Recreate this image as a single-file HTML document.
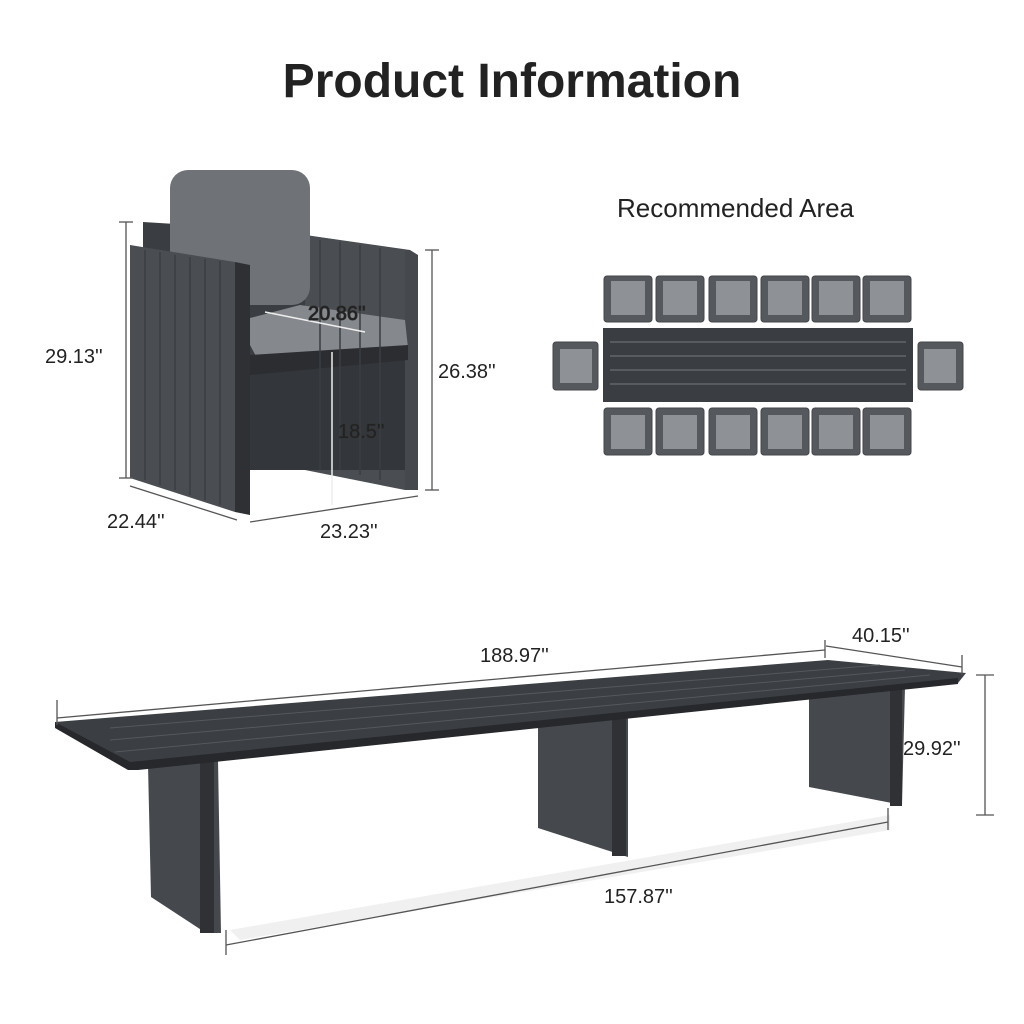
<!DOCTYPE html>
<html><head><meta charset="utf-8"><style>
html,body{margin:0;padding:0;background:#fff}
svg{display:block}
text{font-family:"Liberation Sans",sans-serif;fill:#222}
</style></head><body>
<svg width="1024" height="1024" viewBox="0 0 1024 1024" xmlns="http://www.w3.org/2000/svg">
<text x="512" y="97" text-anchor="middle" font-size="48" font-weight="bold" fill="#111">Product Information</text>

<!-- Chair -->
<g>
<polygon points="143,222 305,232 305,470 143,470" fill="#3a3d42"/>
<polygon points="305,235 410,250 418,255 418,490 405,490 405,260 305,245" fill="#45484d"/>
<polygon points="305,235 405,250 405,490 305,470" fill="#4a4d52"/>
<polygon points="250,360 405,345 405,470 250,470" fill="#33363a"/>
<rect x="170" y="170" width="140" height="135" rx="18" fill="#6f7277"/>
<polygon points="250,318 300,305 405,320 408,348 258,360 250,345" fill="#85888c"/>
<polygon points="250,355 408,345 408,360 250,375" fill="#2b2d31"/>
<polygon points="130,245 235,262 235,512 130,478" fill="#4a4d52"/>
<polygon points="235,262 250,265 250,515 235,512" fill="#2e3034"/>
<g stroke="#3b3e42" stroke-width="1.5">
<line x1="145" y1="250" x2="145" y2="480"/><line x1="160" y1="252" x2="160" y2="485"/>
<line x1="175" y1="255" x2="175" y2="490"/><line x1="190" y1="257" x2="190" y2="495"/>
<line x1="205" y1="259" x2="205" y2="500"/><line x1="220" y1="261" x2="220" y2="505"/>
<line x1="320" y1="240" x2="320" y2="470"/><line x1="340" y1="242" x2="340" y2="470"/>
<line x1="360" y1="245" x2="360" y2="475"/><line x1="380" y1="248" x2="380" y2="480"/>
</g>
<g stroke="#555" stroke-width="1.3" fill="none">
<line x1="126" y1="222" x2="126" y2="478"/><line x1="119" y1="222" x2="133" y2="222"/><line x1="119" y1="478" x2="133" y2="478"/>
<line x1="432" y1="250" x2="432" y2="490"/><line x1="425" y1="250" x2="439" y2="250"/><line x1="425" y1="490" x2="439" y2="490"/>
<line x1="130" y1="486" x2="237" y2="520"/>
<line x1="250" y1="522" x2="418" y2="496"/>
</g>
<line x1="332" y1="352" x2="332" y2="505" stroke="#eee" stroke-width="1.5"/>
<line x1="265" y1="312" x2="365" y2="332" stroke="#eee" stroke-width="1.5"/>
<text x="45" y="363" font-size="20">29.13''</text>
<text x="438" y="378" font-size="20">26.38''</text>
<text x="107" y="528" font-size="20">22.44''</text>
<text x="320" y="538" font-size="20">23.23''</text>
<text x="338" y="438" font-size="20" fill="#fff" stroke="#333" stroke-width="1" paint-order="stroke">18.5''</text>
<text x="308" y="320" font-size="20" fill="#fff" stroke="#333" stroke-width="1" paint-order="stroke">20.86''</text>
</g>

<!-- Recommended area -->
<text x="617" y="217" font-size="26">Recommended Area</text>
<rect x="603" y="328" width="310" height="74" fill="#3a3d42"/>
<g stroke="#6b6e73" stroke-width="1.2">
<line x1="610" y1="342" x2="906" y2="342"/><line x1="610" y1="356" x2="906" y2="356"/>
<line x1="610" y1="370" x2="906" y2="370"/><line x1="610" y1="384" x2="906" y2="384"/>
</g>
<g fill="#55585d" stroke="#44464a">
<rect x="604" y="276" width="48" height="46" rx="3"/><rect x="656" y="276" width="48" height="46" rx="3"/>
<rect x="709" y="276" width="48" height="46" rx="3"/><rect x="761" y="276" width="48" height="46" rx="3"/>
<rect x="812" y="276" width="48" height="46" rx="3"/><rect x="863" y="276" width="48" height="46" rx="3"/>
<rect x="604" y="408" width="48" height="47" rx="3"/><rect x="656" y="408" width="48" height="47" rx="3"/>
<rect x="709" y="408" width="48" height="47" rx="3"/><rect x="761" y="408" width="48" height="47" rx="3"/>
<rect x="812" y="408" width="48" height="47" rx="3"/><rect x="863" y="408" width="48" height="47" rx="3"/>
<rect x="553" y="342" width="45" height="48" rx="3"/><rect x="918" y="342" width="45" height="48" rx="3"/>
</g>
<g fill="#8e9196">
<rect x="611" y="281" width="34" height="34"/><rect x="663" y="281" width="34" height="34"/>
<rect x="716" y="281" width="34" height="34"/><rect x="768" y="281" width="34" height="34"/>
<rect x="819" y="281" width="34" height="34"/><rect x="870" y="281" width="34" height="34"/>
<rect x="611" y="415" width="34" height="34"/><rect x="663" y="415" width="34" height="34"/>
<rect x="716" y="415" width="34" height="34"/><rect x="768" y="415" width="34" height="34"/>
<rect x="819" y="415" width="34" height="34"/><rect x="870" y="415" width="34" height="34"/>
<rect x="560" y="349" width="32" height="34"/><rect x="924" y="349" width="32" height="34"/>
</g>

<!-- Long table -->
<polygon points="230,930 890,815 890,830 240,940" fill="#f0f0f0"/>
<polygon points="809,695 905,687 902,805 809,787" fill="#45484d"/>
<polygon points="538,722 628,715 628,857 538,828" fill="#45484d"/>
<polygon points="148,765 218,760 221,933 206,933 151,897" fill="#45484d"/>
<rect x="200" y="760" width="14" height="173" fill="#2f3135"/>
<rect x="612" y="716" width="14" height="140" fill="#2f3135"/>
<rect x="890" y="688" width="12" height="118" fill="#2f3135"/>
<polygon points="55,722 828,660 966,673 958,683 138,768 130,768" fill="#3b3e43"/>
<polygon points="55,722 130,762 958,678 958,684 138,770 128,770 55,728" fill="#26282b"/>
<g stroke="#55585d" stroke-width="1">
<line x1="110" y1="728" x2="880" y2="665"/><line x1="110" y1="740" x2="905" y2="670"/><line x1="115" y1="752" x2="930" y2="675"/>
</g>
<g stroke="#555" stroke-width="1.3" fill="none">
<line x1="57" y1="718" x2="825" y2="650"/><line x1="57" y1="700" x2="57" y2="725"/><line x1="825" y1="640" x2="825" y2="658"/>
<line x1="826" y1="646" x2="962" y2="667"/><line x1="962" y1="655" x2="962" y2="675"/>
<line x1="985" y1="675" x2="985" y2="815"/><line x1="976" y1="675" x2="994" y2="675"/><line x1="976" y1="815" x2="994" y2="815"/>
<line x1="226" y1="945" x2="888" y2="822"/><line x1="226" y1="930" x2="226" y2="955"/><line x1="888" y1="808" x2="888" y2="830"/>
</g>
<text x="480" y="662" font-size="20">188.97''</text>
<text x="852" y="642" font-size="20">40.15''</text>
<text x="903" y="755" font-size="20">29.92''</text>
<text x="604" y="903" font-size="20">157.87''</text>
</svg>
</body></html>
